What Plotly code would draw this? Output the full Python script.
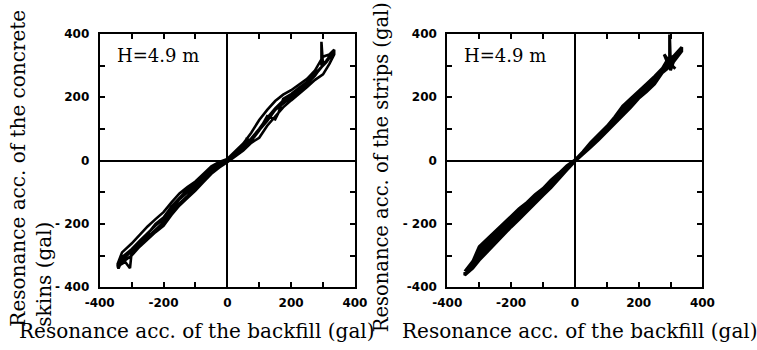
import plotly.graph_objects as go

# Concrete skins vs backfill (left panel): recorded loop path, in gal
skins_x = [
    # upward sweep, upper edge
    -345, -330, -300, -275, -250, -225, -200, -175, -150, -125, -100, -75, -50, -25, 0, 25, 50, 75, 100, 125, 150, 175, 200, 225, 250, 275, 300, 320, 335,
    # downward sweep, lower edge
    335, 320, 300, 275, 250, 225, 200, 175, 150, 125, 100, 75, 50, 25, 0, -25, -50, -75, -100, -125, -150, -175, -200, -225, -250, -275, -300, -320, -345,
    # upward sweep with loops and the spike near 300 gal
    -340, -330, -300, -275, -250, -225, -200, -175, -150, -125, -100, -75, -50, -25, 0, 25, 50, 60, 75, 100, 125, 150, 160, 175, 200, 225, 250, 275, 300, 295, 295, 310, 335,
    # downward sweep through the middle
    330, 310, 290, 275, 250, 225, 200, 175, 150, 125, 100, 75, 50, 25, 0, -25, -50, -75, -100, -125, -150, -175, -200, -225, -250, -275, -300, -305, -320, -345,
    # final upward sweep along the centre
    -345, -330, -300, -275, -250, -225, -200, -175, -150, -125, -100, -75, -50, -25, 0, 25, 50, 75, 100, 125, 150, 175, 200, 225, 250, 275, 300, 320, 335,
]
skins_y = [
    -330, -290, -262, -235, -208, -185, -163, -132, -104, -84, -66, -42, -18, -4, 5, 30, 54, 88, 128, 160, 188, 208, 222, 240, 258, 285, 328, 335, 350,
    335, 305, 272, 255, 232, 212, 190, 168, 140, 110, 72, 56, 32, 12, -5, -22, -42, -68, -95, -118, -142, -172, -206, -226, -248, -272, -300, -315, -338,
    -338, -315, -285, -262, -232, -200, -180, -145, -118, -92, -75, -50, -28, -8, 0, 24, 46, 68, 62, 95, 140, 130, 150, 195, 210, 230, 248, 275, 300, 375, 300, 315, 348,
    338, 310, 290, 268, 242, 220, 200, 180, 160, 125, 95, 68, 38, 16, -2, -18, -38, -62, -88, -112, -135, -165, -195, -218, -240, -265, -290, -340, -320, -335,
    -335, -305, -280, -254, -228, -205, -185, -152, -122, -100, -80, -55, -30, -12, 0, 20, 42, 70, 100, 135, 165, 190, 207, 226, 245, 270, 300, 325, 345,
]

# Strips vs backfill (right panel): recorded loop path, in gal
strips_x = [
    -345, -320, -300, -275, -250, -225, -200, -175, -150, -125, -100, -75, -50, -25, 0, 25, 50, 75, 100, 125, 150, 175, 200, 225, 250, 275, 290, 310, 335,
    335, 310, 290, 275, 250, 225, 200, 175, 150, 125, 100, 75, 50, 25, 0, -25, -50, -75, -100, -125, -150, -175, -200, -225, -250, -275, -300, -320, -345,
    -345, -320, -300, -275, -250, -225, -200, -175, -150, -125, -100, -75, -50, -25, 0, 25, 50, 75, 100, 125, 150, 175, 200, 225, 250, 275, 290, 310, 335,
    335, 310, 290, 275, 250, 225, 200, 175, 150, 125, 100, 75, 50, 25, 0, -25, -50, -75, -100, -125, -150, -175, -200, -225, -250, -275, -300, -320, -345,
    -345, -320, -300, -275, -250, -225, -200, -175, -150, -125, -100, -75, -50, -25, 0, 25, 50, 75, 100, 125, 150, 175, 200, 225, 250, 275, 290, 310, 335,
    # tail: crossing near 300 gal and the vertical spike
    320, 305, 300, 297, 297, 299, 303, 290, 280, 290, 305, 315,
]
strips_y = [
    -350, -318, -272, -248, -224, -198, -177, -152, -132, -108, -88, -62, -40, -16, 2, 28, 58, 84, 108, 138, 172, 196, 218, 242, 266, 292, 318, 330, 358,
    350, 318, 290, 278, 242, 218, 196, 168, 142, 115, 90, 66, 42, 20, -3, -30, -58, -86, -110, -136, -160, -186, -210, -236, -265, -290, -315, -340, -362,
    -355, -325, -282, -258, -233, -208, -185, -160, -138, -114, -93, -70, -45, -22, 0, 25, 54, 78, 104, 132, 165, 190, 213, 236, 260, 285, 312, 322, 352,
    345, 312, 298, 284, 250, 226, 202, 176, 150, 122, 96, 70, 46, 22, -1, -26, -53, -79, -103, -128, -152, -178, -200, -225, -252, -277, -302, -330, -358,
    -360, -330, -292, -268, -243, -218, -193, -169, -145, -121, -98, -74, -49, -24, 0, 25, 50, 75, 100, 128, 158, 183, 208, 232, 255, 280, 305, 330, 355,
    338, 300, 285, 320, 398, 330, 300, 310, 335, 320, 300, 290,
]

tick_vals = [-400, -300, -200, -100, 0, 100, 200, 300, 400]
x_tick_text = ["-400", "", "-200", "", "0", "", "200", "", "400"]
y_tick_text_left = ["- 400", "", "- 200", "", "0", "", "200", "", "400"]
y_tick_text_right = ["-400", "", "- 200", "", "0", "", "200", "", "400"]

tick_font = dict(family="DejaVu Sans", size=12, color="black", weight="bold")
serif = "DejaVu Serif"

fig = go.Figure()
fig.add_trace(go.Scatter(x=skins_x, y=skins_y, mode="lines",
                         line=dict(color="black", width=2.6), xaxis="x", yaxis="y",
                         showlegend=False, hoverinfo="skip"))
fig.add_trace(go.Scatter(x=strips_x, y=strips_y, mode="lines",
                         line=dict(color="black", width=3), xaxis="x2", yaxis="y2",
                         showlegend=False, hoverinfo="skip"))


def axis_style(ticktext, standoff, **kw):
    d = dict(range=[-400, 400], tickmode="array", tickvals=tick_vals, ticktext=ticktext,
             ticks="inside", ticklen=5, tickwidth=2, tickcolor="black",
             showline=True, linecolor="black", linewidth=2, mirror="ticks",
             showgrid=False, zeroline=True, zerolinecolor="black", zerolinewidth=1.5,
             tickfont=tick_font, ticklabelstandoff=standoff, fixedrange=True)
    d.update(kw)
    return d


fig.update_layout(
    width=757, height=350,
    margin=dict(l=0, r=0, t=0, b=0),
    paper_bgcolor="white", plot_bgcolor="white",
    xaxis=axis_style(x_tick_text, 3, domain=[0.1162, 0.4663], anchor="y"),
    yaxis=axis_style(y_tick_text_left, 6, domain=[0.166, 0.92], anchor="x"),
    xaxis2=axis_style(x_tick_text, 3, domain=[0.593, 0.943], anchor="y2"),
    yaxis2=axis_style(y_tick_text_right, 6, domain=[0.166, 0.92], anchor="x2"),
)

ann_font = dict(family=serif, size=20, color="black")
fig.add_annotation(text="Resonance acc. of the backfill (gal)", xref="paper", yref="paper",
                   x=189 / 757, y=1 - 338 / 350, showarrow=False, font=ann_font,
                   xanchor="center", yanchor="middle")
fig.add_annotation(text="Resonance acc. of the backfill (gal)", xref="paper", yref="paper",
                   x=587 / 757, y=1 - 338 / 350, showarrow=False, font=ann_font,
                   xanchor="center", yanchor="middle")
fig.add_annotation(text="Resonance acc. of the concrete<br>skins (gal)", xref="paper", yref="paper",
                   x=17 / 757, y=1 - 168 / 350, showarrow=False, font=ann_font, textangle=-90,
                   align="left", xanchor="center", yanchor="middle")
fig.add_annotation(text="Resonance acc. of the strips (gal)", xref="paper", yref="paper",
                   x=380 / 757, y=1 - 167 / 350, showarrow=False,
                   font=dict(family=serif, size=19.5, color="black"), textangle=-90,
                   xanchor="center", yanchor="middle")

h_font = dict(family=serif, size=18, color="black")
fig.add_annotation(text="H=4.9 m", xref="paper", yref="paper", x=104 / 757, y=1 - 51 / 350,
                   showarrow=False, font=h_font, xanchor="left", yanchor="middle")
fig.add_annotation(text="H=4.9 m", xref="paper", yref="paper", x=464 / 757, y=1 - 51 / 350,
                   showarrow=False, font=h_font, xanchor="left", yanchor="middle")

fig.write_html("out.html")
